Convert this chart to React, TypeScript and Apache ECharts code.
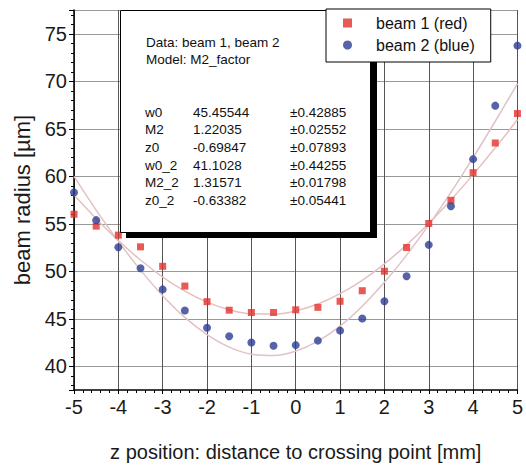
import React, { useEffect, useRef } from 'react';
import * as echarts from 'echarts';

// ---- data ----
const zPositions = [-5, -4.5, -4, -3.5, -3, -2.5, -2, -1.5, -1, -0.5, 0, 0.5, 1, 1.5, 2, 2.5, 3, 3.5, 4, 4.5, 5];
const beam1 = [56.0, 54.75, 53.8, 52.57, 50.52, 48.44, 46.8, 45.9, 45.66, 45.66, 45.94, 46.2, 46.84, 47.95, 50.0, 52.5, 55.03, 57.47, 60.38, 63.5, 66.6];
const beam2 = [58.3, 55.38, 52.53, 50.31, 48.09, 45.87, 44.06, 43.16, 42.5, 42.15, 42.22, 42.7, 43.75, 45.03, 46.84, 49.48, 52.78, 56.84, 61.8, 67.43, 73.75];
const fit1 = [58.04, 55.53, 53.23, 51.18, 49.39, 47.9, 46.75, 45.95, 45.53, 45.49, 45.83, 46.55, 47.64, 49.05, 50.78, 52.78, 55.03, 57.5, 60.17, 62.99, 65.97];
const fit2 = [59.98, 56.44, 53.14, 50.12, 47.43, 45.14, 43.32, 42.01, 41.27, 41.12, 41.59, 42.64, 44.23, 46.32, 48.83, 51.7, 54.88, 58.31, 61.96, 65.79, 69.76];

const seriesNames = ['beam 1 (red)', 'beam 2 (blue)'];
const infoLines = ['Data: beam 1, beam 2', 'Model: M2_factor'];
const paramNames = ['w0', 'M2', 'z0', 'w0_2', 'M2_2', 'z0_2'];
const paramValues = ['45.45544', '1.22035', '-0.69847', '41.1028', '1.31571', '-0.63382'];
const paramErrors = ['±0.42885', '±0.02552', '±0.07893', '±0.44255', '±0.01798', '±0.05441'];

const FONT = '"Liberation Sans", Arial, Helvetica, sans-serif';

function pairs(xs: number[], ys: number[]) {
  return xs.map((x, i) => [x, ys[i]]);
}

export default function App() {
  const ref = useRef<HTMLDivElement>(null);
  useEffect(() => {
    if (!ref.current) return;
    const chart = echarts.init(ref.current, null, { renderer: 'svg' });

    const textStyleBox = { fontFamily: FONT, fontSize: 13.5, fill: '#111' };
    const texts: any[] = [];
    infoLines.forEach((t, i) => {
      texts.push({ type: 'text', x: 146, y: 42 + i * 17, style: { ...textStyleBox, text: t, verticalAlign: 'middle' } });
    });
    paramNames.forEach((n, i) => {
      const y = 112 + i * 17.7;
      texts.push({ type: 'text', x: 145, y, style: { ...textStyleBox, text: n, verticalAlign: 'middle' } });
      texts.push({ type: 'text', x: 193, y, style: { ...textStyleBox, text: paramValues[i], verticalAlign: 'middle' } });
      texts.push({ type: 'text', x: 290, y, style: { ...textStyleBox, text: paramErrors[i], verticalAlign: 'middle' } });
    });

    chart.setOption({
      animation: false,
      backgroundColor: '#fff',
      textStyle: { fontFamily: FONT },
      grid: { left: 74, right: 2, top: 10, bottom: 73, containLabel: false },
      xAxis: {
        type: 'value',
        min: -5,
        max: 5,
        interval: 1,
        name: 'z position: distance to crossing point [mm]',
        nameLocation: 'middle',
        nameGap: 52,
        nameTextStyle: { fontSize: 20, color: '#1a1a1a', fontFamily: FONT },
        axisLine: { show: true, onZero: false, lineStyle: { color: '#000', width: 1.5 } },
        axisTick: { show: true, length: 4, lineStyle: { color: '#000' } },
        minorTick: { show: true, splitNumber: 5, length: 3, lineStyle: { color: '#000' } },
        axisLabel: { fontSize: 20, color: '#1a1a1a', margin: 7, fontFamily: FONT },
        splitLine: { show: true, lineStyle: { color: '#555', width: 1 } },
      },
      yAxis: {
        type: 'value',
        min: 37.5,
        max: 77.5,
        splitNumber: 8,
        name: 'beam radius [µm]',
        nameLocation: 'middle',
        nameGap: 40,
        nameTextStyle: { fontSize: 22, color: '#1a1a1a', fontFamily: FONT },
        axisLine: { show: true, onZero: false, lineStyle: { color: '#000', width: 1.5 } },
        axisTick: { show: true, length: 5, lineStyle: { color: '#000' } },
        minorTick: { show: true, splitNumber: 5, length: 3, lineStyle: { color: '#000' } },
        axisLabel: { fontSize: 20, color: '#1a1a1a', margin: 7, showMinLabel: false, showMaxLabel: false, fontFamily: FONT },
        splitLine: { show: true, showMinLine: false, showMaxLine: true, lineStyle: { color: '#999', width: 1 } },
      },
      legend: {
        orient: 'vertical',
        left: 326,
        top: 9,
        padding: [6, 16, 9, 17],
        itemGap: 6,
        itemWidth: 9,
        itemHeight: 9,
        borderColor: '#000',
        borderWidth: 1,
        backgroundColor: '#fff',
        z: 20,
        textStyle: { fontSize: 16, color: '#111', padding: [0, 0, 0, 19], fontFamily: FONT },
        data: [
          { name: seriesNames[0], icon: 'rect' },
          { name: seriesNames[1], icon: 'circle' },
        ],
      },
      graphic: [
        {
          type: 'group',
          z: 10,
          children: [
            { type: 'rect', shape: { x: 126, y: 16, width: 251, height: 222 }, style: { fill: '#000' }, z: 10 },
            { type: 'rect', shape: { x: 120.5, y: 10.5, width: 250, height: 222 }, style: { fill: '#fff', stroke: '#000', lineWidth: 1 }, z: 11 },
            ...texts.map((t) => ({ ...t, z: 12 })),
          ],
        },
      ],
      series: [
        {
          name: 'fit 1',
          type: 'line',
          smooth: 0.4,
          showSymbol: false,
          silent: true,
          lineStyle: { color: '#e6c0c0', width: 1.5 },
          data: pairs(zPositions, fit1),
          z: 1,
        },
        {
          name: 'fit 2',
          type: 'line',
          smooth: 0.4,
          showSymbol: false,
          silent: true,
          lineStyle: { color: '#e0c2c6', width: 1.5 },
          data: pairs(zPositions, fit2),
          z: 1,
        },
        {
          name: seriesNames[0],
          type: 'scatter',
          symbol: 'rect',
          symbolSize: 7,
          itemStyle: { color: '#e3302c' },
          data: pairs(zPositions, beam1),
          z: 3,
        },
        {
          name: seriesNames[1],
          type: 'scatter',
          symbol: 'circle',
          symbolSize: 8,
          itemStyle: { color: '#2c3c94' },
          data: pairs(zPositions, beam2),
          z: 3,
        },
      ],
    });
    return () => chart.dispose();
  }, []);
  return <div ref={ref} style={{ position: 'absolute', left: 0, top: 0, width: 526, height: 467 }} />;
}
